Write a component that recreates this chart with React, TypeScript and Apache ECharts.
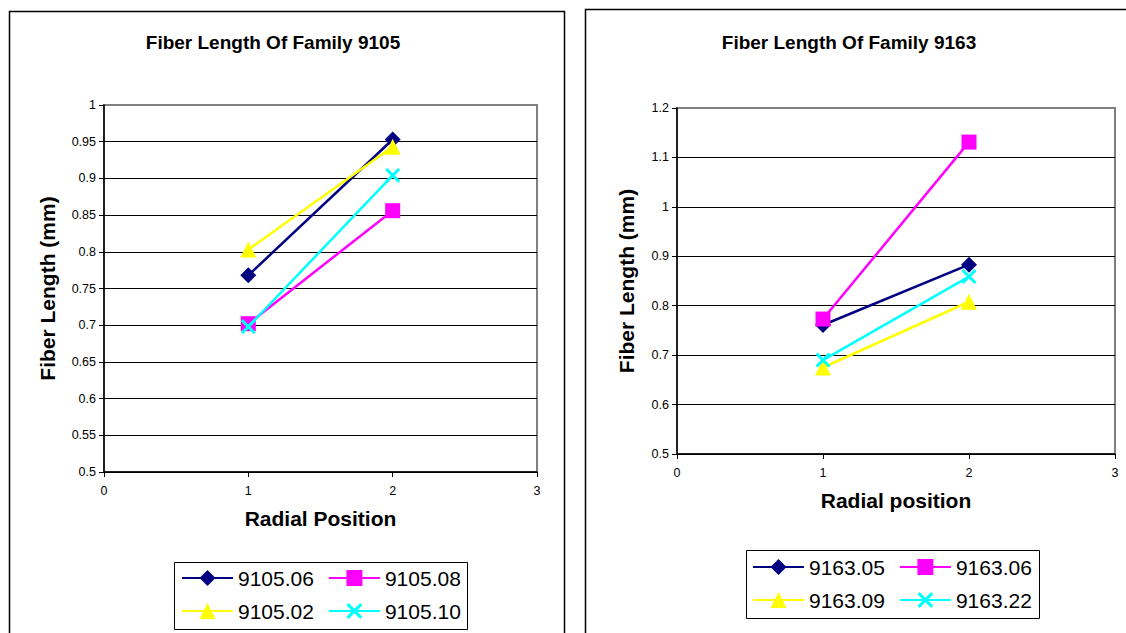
import React, { useEffect, useRef } from "react";
import * as echarts from "echarts";

// Radial positions (x values)
const positions = [1, 2];

// Left chart: Family 9105
const leftTitle = "Fiber Length Of Family 9105";
const leftNames = ["9105.06", "9105.08", "9105.02", "9105.10"];
const left9105_06 = [0.768, 0.953];
const left9105_08 = [0.702, 0.856];
const left9105_02 = [0.803, 0.943];
const left9105_10 = [0.698, 0.904];

// Right chart: Family 9163
const rightTitle = "Fiber Length Of Family 9163";
const rightNames = ["9163.05", "9163.06", "9163.09", "9163.22"];
const right9163_05 = [0.761, 0.883];
const right9163_06 = [0.773, 1.131];
const right9163_09 = [0.675, 0.808];
const right9163_22 = [0.69, 0.859];

const yAxisName = "Fiber Length (mm)";
const leftXName = "Radial Position";
const rightXName = "Radial position";

const colors = ["#000080", "#FF00FF", "#FFFF00", "#00FFFF"];
const xPath =
  "path://M0,1.4 L1.4,0 L5,3.6 L8.6,0 L10,1.4 L6.4,5 L10,8.6 L8.6,10 L5,6.4 L1.4,10 L0,8.6 L3.6,5 Z";
const symbols = ["diamond", "rect", "triangle", xPath];
const symbolSizes = [16, 15, 16, 15];

const FONT = "'Liberation Sans', Arial, Helvetica, sans-serif";

function makeSeries(names: string[], values: number[][], idx: number) {
  return names.map((name, i) => ({
    type: "line",
    name,
    xAxisIndex: idx,
    yAxisIndex: idx,
    data: positions.map((x, k) => [x, values[i][k]]),
    symbol: symbols[i],
    symbolSize: symbolSizes[i],
    color: colors[i],
    itemStyle: { color: colors[i] },
    lineStyle: { color: colors[i], width: 2.5 },
    emphasis: { disabled: true },
    z: 3 + i,
  }));
}

function xAxis(idx: number, name: string) {
  return {
    type: "value",
    gridIndex: idx,
    min: 0,
    max: 3,
    interval: 1,
    name,
    nameLocation: "middle",
    nameGap: 36,
    nameTextStyle: { fontSize: 21, fontWeight: "bold", color: "#000", fontFamily: FONT },
    axisLine: { show: true, onZero: false, lineStyle: { color: "#000", width: 1.5 } },
    axisTick: { show: true, length: 5, lineStyle: { color: "#000", width: 1 } },
    axisLabel: { fontSize: 12.5, color: "#000", margin: 12, fontFamily: FONT },
    splitLine: { show: false },
  };
}

function yAxis(idx: number, max: number, interval: number, gap: number) {
  return {
    type: "value",
    gridIndex: idx,
    min: 0.5,
    max,
    interval,
    name: yAxisName,
    nameLocation: "middle",
    nameRotate: 90,
    nameGap: gap,
    nameTextStyle: { fontSize: 21, fontWeight: "bold", color: "#000", fontFamily: FONT },
    axisLine: { show: true, onZero: false, lineStyle: { color: "#000", width: 1.5 } },
    axisTick: { show: true, length: 5, lineStyle: { color: "#000", width: 1 } },
    axisLabel: { fontSize: 12.5, color: "#000", margin: 8, fontFamily: FONT },
    splitLine: { show: true, showMaxLine: false, lineStyle: { color: "#000", width: 1 } },
  };
}

function legend(data: string[], left: number, top: number) {
  return {
    data,
    left,
    top,
    orient: "horizontal",
    padding: 0,
    itemGap: 14,
    itemWidth: 51,
    itemHeight: 20,
    selectedMode: false,
    textStyle: { fontSize: 21, color: "#000", fontFamily: FONT, lineHeight: 21 },
  };
}

export default function App() {
  const ref = useRef<HTMLDivElement>(null);
  useEffect(() => {
    if (!ref.current) return;
    const chart = echarts.init(ref.current, undefined, { renderer: "svg" });
    const option = {
      animation: false,
      backgroundColor: "#fff",
      textStyle: { fontFamily: FONT },
      title: [
        {
          text: leftTitle,
          left: 273,
          top: 33,
          textAlign: "center",
          padding: 0,
          textStyle: { fontSize: 19, fontWeight: "bold", color: "#000", fontFamily: FONT },
        },
        {
          text: rightTitle,
          left: 849,
          top: 33,
          textAlign: "center",
          padding: 0,
          textStyle: { fontSize: 19, fontWeight: "bold", color: "#000", fontFamily: FONT },
        },
      ],
      grid: [
        { left: 104, top: 105, width: 433, height: 367, show: true, borderColor: "#808080", borderWidth: 2, backgroundColor: "#fff" },
        { left: 677, top: 108, width: 438, height: 346, show: true, borderColor: "#808080", borderWidth: 2, backgroundColor: "#fff" },
      ],
      xAxis: [xAxis(0, leftXName), xAxis(1, rightXName)],
      yAxis: [yAxis(0, 1, 0.05, 46), yAxis(1, 1.2, 0.1, 40)],
      legend: [
        legend([leftNames[0], leftNames[1]], 181, 567.5),
        legend([leftNames[2], leftNames[3]], 181, 600.5),
        legend([rightNames[0], rightNames[1]], 752, 556.5),
        legend([rightNames[2], rightNames[3]], 752, 589.5),
      ],
      graphic: [
        { type: "rect", z: 0, shape: { x: 9.5, y: 11.5, width: 555, height: 700 }, style: { fill: "none", stroke: "#000", lineWidth: 1.5 } },
        { type: "rect", z: 0, shape: { x: 585.5, y: 9.5, width: 600, height: 700 }, style: { fill: "none", stroke: "#000", lineWidth: 1.5 } },
        { type: "rect", z: 0, shape: { x: 174.5, y: 562.5, width: 293, height: 67 }, style: { fill: "none", stroke: "#000", lineWidth: 1 } },
        { type: "rect", z: 0, shape: { x: 746.5, y: 550.5, width: 293, height: 68 }, style: { fill: "none", stroke: "#000", lineWidth: 1 } },
      ],
      series: [
        ...makeSeries(leftNames, [left9105_06, left9105_08, left9105_02, left9105_10], 0),
        ...makeSeries(rightNames, [right9163_05, right9163_06, right9163_09, right9163_22], 1),
      ],
    };
    chart.setOption(option as any);
    return () => chart.dispose();
  }, []);
  return (
    <div
      ref={ref}
      style={{ position: "fixed", left: 0, top: 0, width: 1126, height: 633, background: "#fff" }}
    />
  );
}
